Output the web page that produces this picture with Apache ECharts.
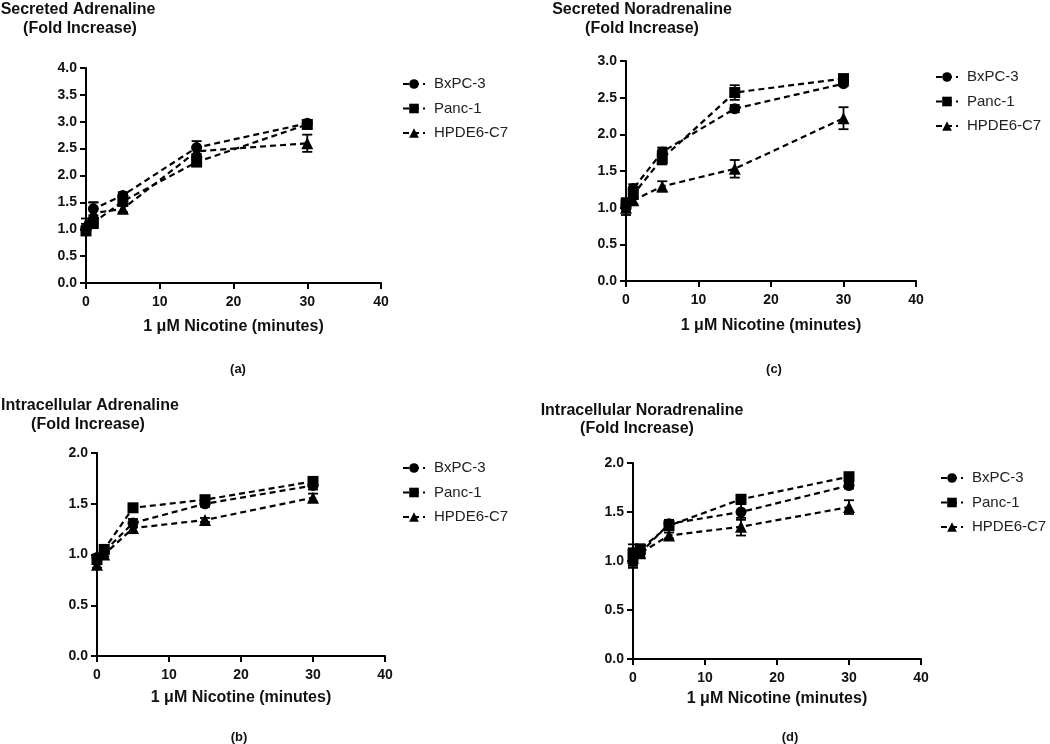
<!DOCTYPE html>
<html>
<head>
<meta charset="utf-8">
<script src="https://cdn.jsdelivr.net/npm/echarts@6/dist/echarts.min.js"></script>
<style>
html,body{margin:0;padding:0;background:#fff;}
#chart{width:1050px;height:744px;}
</style>
</head>
<body>
<div id="chart"></div>
<script>
// ---- data ----
const minutes = [0, 1, 5, 15, 30];
const seriesNames = ['BxPC-3', 'Panc-1', 'HPDE6-C7'];
const xTicks = [0, 10, 20, 30, 40];

// (a) Secreted Adrenaline
const aBx = [1.00, 1.38, 1.63, 2.52, 2.97];
const aPanc = [0.97, 1.12, 1.52, 2.25, 2.95];
const aHpde = [1.10, 1.30, 1.38, 2.45, 2.60];
const aBxErr = [0.10, 0.12, 0.06, 0.12, 0.05];
const aPancErr = [0.08, 0.10, 0.08, 0.06, 0.08];
const aHpdeErr = [0.10, 0.20, 0.06, 0.08, 0.16];

// (b) Intracellular Adrenaline
const bBx = [0.97, 1.03, 1.31, 1.50, 1.68];
const bPanc = [0.95, 1.05, 1.46, 1.54, 1.72];
const bHpde = [0.90, 1.00, 1.26, 1.34, 1.56];
const bBxErr = [0.03, 0.03, 0.04, 0.03, 0.04];
const bPancErr = [0.04, 0.03, 0.03, 0.03, 0.04];
const bHpdeErr = [0.03, 0.02, 0.05, 0.02, 0.04];

// (c) Secreted Noradrenaline
const cBx = [1.03, 1.26, 1.76, 2.35, 2.69];
const cPanc = [1.05, 1.18, 1.67, 2.57, 2.76];
const cHpde = [1.00, 1.10, 1.29, 1.53, 2.22];
const cBxErr = [0.05, 0.06, 0.06, 0.05, 0.03];
const cPancErr = [0.08, 0.06, 0.08, 0.10, 0.04];
const cHpdeErr = [0.10, 0.05, 0.07, 0.12, 0.15];

// (d) Intracellular Noradrenaline
const dBx = [1.00, 1.08, 1.38, 1.50, 1.77];
const dPanc = [1.07, 1.12, 1.36, 1.63, 1.86];
const dHpde = [1.03, 1.08, 1.26, 1.35, 1.55];
const dBxErr = [0.05, 0.04, 0.04, 0.08, 0.03];
const dPancErr = [0.10, 0.05, 0.04, 0.03, 0.04];
const dHpdeErr = [0.10, 0.04, 0.03, 0.09, 0.07];

const yMaxes = [4, 2, 3, 2];
const titles = [
  ['Secreted Adrenaline', '(Fold Increase)'],
  ['Intracellular Adrenaline', '(Fold Increase)'],
  ['Secreted Noradrenaline', '(Fold Increase)'],
  ['Intracellular Noradrenaline', '(Fold Increase)']
];
const captions = ['(a)', '(b)', '(c)', '(d)'];
const xName = '1 \u03bcM Nicotine (minutes)';

// ---- layout ----
const panels = [
  { vals: [aBx, aPanc, aHpde], errs: [aBxErr, aPancErr, aHpdeErr],
    grid: {left: 86, top: 68, width: 295, height: 215}, nameGap: 36,
    t1: [78, 10], t2: [80, 29], cap: [238, 369], leg: [397, 70] },
  { vals: [bBx, bPanc, bHpde], errs: [bBxErr, bPancErr, bHpdeErr],
    grid: {left: 97, top: 453, width: 288, height: 203}, nameGap: 34,
    t1: [90, 406], t2: [88, 425], cap: [239, 737], leg: [397, 454] },
  { vals: [cBx, cPanc, cHpde], errs: [cBxErr, cPancErr, cHpdeErr],
    grid: {left: 626, top: 61, width: 290, height: 220}, nameGap: 37,
    t1: [642, 10], t2: [642, 29], cap: [774, 369], leg: [930, 63] },
  { vals: [dBx, dPanc, dHpde], errs: [dBxErr, dPancErr, dHpdeErr],
    grid: {left: 633, top: 463, width: 288, height: 196}, nameGap: 32,
    t1: [642, 411], t2: [637, 429], cap: [790, 737], leg: [935, 464] }
];

const FONT = '"Liberation Sans", Arial, sans-serif';
const symbols = ['circle', 'rect', 'triangle'];
const symSizes = [11, 11, 12];

function renderErr(params, api) {
  const x = api.value(0), lo = api.value(1), hi = api.value(2);
  const p1 = api.coord([x, hi]), p2 = api.coord([x, lo]);
  const w = 5;
  const st = {stroke: '#000', lineWidth: 1.8};
  return {type: 'group', children: [
    {type: 'line', shape: {x1: p1[0], y1: p1[1], x2: p2[0], y2: p2[1]}, style: st},
    {type: 'line', shape: {x1: p1[0] - w, y1: p1[1], x2: p1[0] + w, y2: p1[1]}, style: st},
    {type: 'line', shape: {x1: p2[0] - w, y1: p2[1], x2: p2[0] + w, y2: p2[1]}, style: st}
  ]};
}

const grids = [], xAxes = [], yAxes = [], series = [], legends = [], graphics = [];
panels.forEach((p, i) => {
  grids.push(Object.assign({containLabel: false}, p.grid));
  xAxes.push({
    type: 'value', gridIndex: i, min: 0, max: 40, interval: 10,
    name: xName, nameLocation: 'middle', nameGap: p.nameGap,
    nameTextStyle: {fontFamily: FONT, fontWeight: 'bold', fontSize: 16, color: '#111'},
    axisLine: {onZero: false, lineStyle: {color: '#000', width: 2}},
    axisTick: {show: true, length: 6, lineStyle: {color: '#000', width: 2}},
    axisLabel: {fontFamily: FONT, fontWeight: 'bold', fontSize: 14, color: '#111', margin: 12,
      customValues: xTicks},
    splitLine: {show: false}
  });
  yAxes.push({
    type: 'value', gridIndex: i, min: 0, max: yMaxes[i], interval: 0.5,
    axisLine: {show: true, onZero: false, lineStyle: {color: '#000', width: 2}},
    axisTick: {show: true, length: 6, lineStyle: {color: '#000', width: 2}},
    axisLabel: {fontFamily: FONT, fontWeight: 'bold', fontSize: 14, color: '#111', margin: 9,
      formatter: v => v.toFixed(1)},
    splitLine: {show: false}
  });
  seriesNames.forEach((nm, k) => {
    series.push({
      type: 'custom', name: nm + ' err', xAxisIndex: i, yAxisIndex: i,
      renderItem: renderErr, z: 1, silent: true,
      encode: {x: 0, y: [1, 2]},
      data: minutes.map((m, j) => [m, p.vals[k][j] - p.errs[k][j], p.vals[k][j] + p.errs[k][j]])
    });
    series.push({
      type: 'line', name: nm, xAxisIndex: i, yAxisIndex: i, z: 3,
      data: minutes.map((m, j) => [m, p.vals[k][j]]),
      symbol: symbols[k], symbolSize: symSizes[k], showSymbol: true,
      itemStyle: {color: '#000'},
      lineStyle: {color: '#000', width: 2.2, type: [6, 4]},
      animation: false
    });
  });
  legends.push({
    data: seriesNames, orient: 'vertical', left: p.leg[0], top: p.leg[1],
    itemWidth: 22, itemHeight: 12, itemGap: 6.5,
    textStyle: {fontFamily: FONT, fontSize: 15, color: '#222', lineHeight: 18, padding: [0, 0, 0, 4]},
    selectedMode: false
  });
  graphics.push(
    {type: 'text', x: p.t1[0], y: p.t1[1], style: {text: titles[i][0], font: 'bold 16px ' + FONT, fill: '#111', textAlign: 'center', textVerticalAlign: 'middle'}},
    {type: 'text', x: p.t2[0], y: p.t2[1], style: {text: titles[i][1], font: 'bold 16px ' + FONT, fill: '#111', textAlign: 'center', textVerticalAlign: 'middle'}},
    {type: 'text', x: p.cap[0], y: p.cap[1], style: {text: captions[i], font: 'bold 13px ' + FONT, fill: '#111', textAlign: 'center', textVerticalAlign: 'middle'}}
  );
});

const chart = echarts.init(document.getElementById('chart'), null, {renderer: 'canvas'});
chart.setOption({
  animation: false,
  backgroundColor: '#fff',
  grid: grids, xAxis: xAxes, yAxis: yAxes, series: series,
  legend: legends, graphic: graphics
});
</script>
</body>
</html>
